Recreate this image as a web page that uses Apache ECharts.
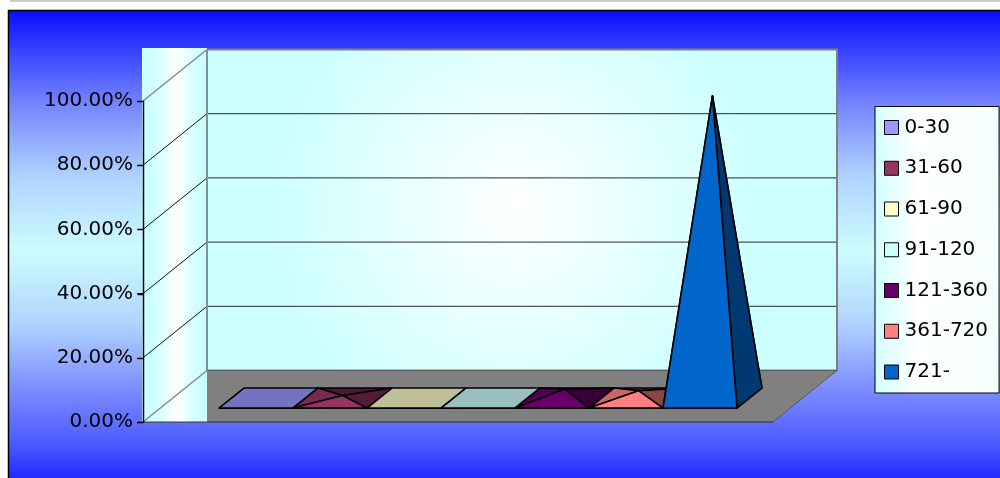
<!DOCTYPE html>
<html><head><meta charset="utf-8">
<script src="https://cdn.jsdelivr.net/npm/echarts@6/dist/echarts.min.js"></script>
<style>html,body{margin:0;padding:0;background:#fff}#c{width:1000px;height:478px}</style>
</head><body><div id="c"></div>
<script>
// ---- data ----
const categories = ['0-30', '31-60', '61-90', '91-120', '121-360', '361-720', '721-'];
const values = [0, 0.008, 0, 0, 0.028, 0.023, 0.941];
const colors = ['#9999ff', '#993366', '#ffffcc', '#ccffff', '#660066', '#ff8080', '#0066cc'];
const yTicks = [0, 0.2, 0.4, 0.6, 0.8, 1.0];

// ---- geometry / style ----
const X_MIN = -1.293, X_MAX = 7.22;
const DEPTH = [64, -51.5];
const D0 = 0.27, D1 = 0.66;
const FONT = 'DejaVu Sans';

function shade(hex, f) {
  const n = parseInt(hex.slice(1), 16);
  const r = Math.round(((n >> 16) & 255) * f), g = Math.round(((n >> 8) & 255) * f), b = Math.round((n & 255) * f);
  return 'rgb(' + r + ',' + g + ',' + b + ')';
}

const backGrad = {type: 'radial', x: 0.49, y: 0.49, r: 0.78, colorStops: [
  {offset: 0, color: '#ffffff'}, {offset: 1, color: '#ccffff'}]};
// side-wall shading bands: [start fraction, width fraction, colour]
const sideBands = [[0.18, 0.68, '#d4ffff'], [0.26, 0.52, '#dcffff'], [0.33, 0.38, '#e6ffff'],
  [0.40, 0.26, '#f0ffff'], [0.46, 0.14, '#f8ffff']];

function renderWalls(params, api) {
  const fl = api.coord([X_MIN, 0]);
  const fr = api.coord([X_MAX, 0]);
  const dx = DEPTH[0], dy = DEPTH[1];
  const topY = api.coord([X_MIN, 1])[1];
  const ch = [];
  ch.push({type: 'rect', shape: {x: fl[0] + dx, y: topY + dy, width: fr[0] - fl[0], height: fl[1] - topY},
    style: {fill: backGrad, stroke: '#808080', lineWidth: 2}});
  ch.push({type: 'polygon', shape: {points: [[fl[0], fl[1]], [fr[0], fr[1]], [fr[0] + dx, fr[1] + dy], [fl[0] + dx, fl[1] + dy]]},
    style: {fill: '#808080', stroke: '#5a5a5a', lineWidth: 1}});
  const sx = fl[0] - 1, sy = topY + dy - 1.5, sw = dx + 1, sh = fl[1] - sy;
  ch.push({type: 'rect', shape: {x: sx, y: sy, width: sw, height: sh}, style: {fill: '#ccffff'}});
  sideBands.forEach(function (b) {
    ch.push({type: 'rect', shape: {x: sx + sw * b[0], y: sy, width: sw * b[1], height: sh}, style: {fill: b[2]}});
  });
  yTicks.forEach(function (t) {
    const y = api.coord([X_MIN, t])[1];
    const edge = (t === 0 || t === 1);
    ch.push({type: 'line', shape: {x1: fl[0], y1: y, x2: fl[0] + dx, y2: y + dy},
      style: {stroke: edge ? '#8c8c8c' : '#111', lineWidth: edge ? 1.6 : 1}});
    if (!edge) {
      ch.push({type: 'line', shape: {x1: fl[0] + dx, y1: y + dy, x2: fr[0] + dx - 1, y2: y + dy},
        style: {stroke: '#2a2a2a', lineWidth: 1}});
    }
  });
  ch.push({type: 'line', shape: {x1: fl[0] + dx, y1: topY + dy, x2: fl[0] + dx, y2: fl[1] + dy},
    style: {stroke: '#8c8c8c', lineWidth: 2}});
  ch.push({type: 'line', shape: {x1: fl[0], y1: fl[1], x2: fr[0], y2: fr[1]},
    style: {stroke: '#404040', lineWidth: 1}});
  return {type: 'group', children: ch};
}

function renderAxisOverlay(params, api) {
  const bot = api.coord([X_MIN, 0]);
  const top = api.coord([X_MIN, 1]);
  const ax = Math.round(bot[0]) + 0.5;
  const ch = [{type: 'line', shape: {x1: ax, y1: top[1], x2: ax, y2: bot[1]}, style: {stroke: '#000', lineWidth: 1.5}}];
  yTicks.forEach(function (t) {
    const y = Math.round(api.coord([X_MIN, t])[1]) + 0.5;
    ch.push({type: 'line', shape: {x1: ax - 6, y1: y, x2: ax, y2: y}, style: {stroke: '#000', lineWidth: 1.5}});
  });
  return {type: 'group', children: ch};
}

function makeRender(i) {
  return function (params, api) {
    const x = api.value(0), v = api.value(1);
    const P = function (xx, vv, d) { const c = api.coord([xx, vv]); return [c[0] + d * DEPTH[0], c[1] + d * DEPTH[1]]; };
    const FL = P(x - 0.5, 0, D0), FR = P(x + 0.5, 0, D0), BL = P(x - 0.5, 0, D1), BR = P(x + 0.5, 0, D1);
    const st = function (f) { return {fill: shade(colors[i], f), stroke: '#000', lineWidth: 1.6, lineJoin: 'round'}; };
    if (v <= 0) return {type: 'polygon', shape: {points: [FL, FR, BR, BL]}, style: st(0.75)};
    const A = P(x, v, (D0 + D1) / 2);
    return {type: 'group', children: [
      {type: 'polygon', shape: {points: [BL, BR, A]}, style: st(0.5)},
      {type: 'polygon', shape: {points: [FL, BL, A]}, style: st(0.8)},
      {type: 'polygon', shape: {points: [FR, BR, A]}, style: st(0.55)},
      {type: 'polygon', shape: {points: [FL, FR, A]}, style: st(1)}
    ]};
  };
}

const series = [{
  type: 'custom', name: '__walls', z: 1, silent: true, clip: false,
  renderItem: renderWalls, data: [[X_MIN, 1]]
}, {
  type: 'custom', name: '__axis', z: 20, silent: true, clip: false,
  renderItem: renderAxisOverlay, data: [[X_MIN, 1]]
}];
categories.forEach(function (c, i) {
  series.push({type: 'custom', name: c, z: 3, itemStyle: {color: colors[i]},
    renderItem: makeRender(i), data: [[i, values[i]]]});
});

const chart = echarts.init(document.getElementById('c'), null, {renderer: 'canvas'});
chart.setOption({
  animation: false,
  backgroundColor: '#ffffff',
  graphic: [
    {type: 'line', z: -10, shape: {x1: 10, y1: 1, x2: 1000, y2: 1}, style: {stroke: '#cccccc', lineWidth: 2}},
    {type: 'rect', z: -10, shape: {x: 8.5, y: 10.5, width: 1000, height: 480},
      style: {stroke: '#000', lineWidth: 1.5, fill: {type: 'linear', x: 0, y: 0, x2: 0, y2: 1, colorStops: [
        {offset: 0, color: '#0a0aff'}, {offset: 0.1, color: '#3f4cff'}, {offset: 0.2, color: '#7787ff'},
        {offset: 0.35, color: '#b0d4ff'}, {offset: 0.5, color: '#cdfcff'}, {offset: 0.65, color: '#b0d4ff'},
        {offset: 0.8, color: '#7787ff'}, {offset: 0.9, color: '#4c5cff'}, {offset: 1, color: '#1414ff'}]}}}
  ],
  grid: {left: 143, top: 101, width: 630, height: 321},
  xAxis: {type: 'value', min: X_MIN, max: X_MAX, show: false},
  yAxis: {
    type: 'value', min: 0, max: 1, interval: 0.2, z: 10,
    axisLine: {show: true, onZero: false, lineStyle: {color: '#000', width: 1}},
    axisTick: {show: true, inside: false, length: 6, lineStyle: {color: '#000'}},
    splitLine: {show: false},
    axisLabel: {margin: 10, color: '#000', fontFamily: FONT, fontSize: 20,
      formatter: function (v) { return (v * 100).toFixed(2) + '%'; }}
  },
  legend: {
    data: categories, orient: 'vertical', left: 875, top: 106.5,
    padding: [10, 11, 10, 9], itemGap: 18.75, itemWidth: 14, itemHeight: 14, icon: 'rect',
    itemStyle: {borderColor: '#000', borderWidth: 1},
    backgroundColor: {type: 'linear', x: 0, y: 0, x2: 1, y2: 0, colorStops: [
      {offset: 0, color: '#d4ffff'}, {offset: 0.35, color: '#ffffff'}, {offset: 1, color: '#f6ffff'}]},
    borderColor: '#000', borderWidth: 1,
    selectedMode: false,
    textStyle: {color: '#000', fontFamily: FONT, fontSize: 20, lineHeight: 22, padding: [0, 0, 0, 1]}
  },
  series: series
});
</script>
</body></html>
